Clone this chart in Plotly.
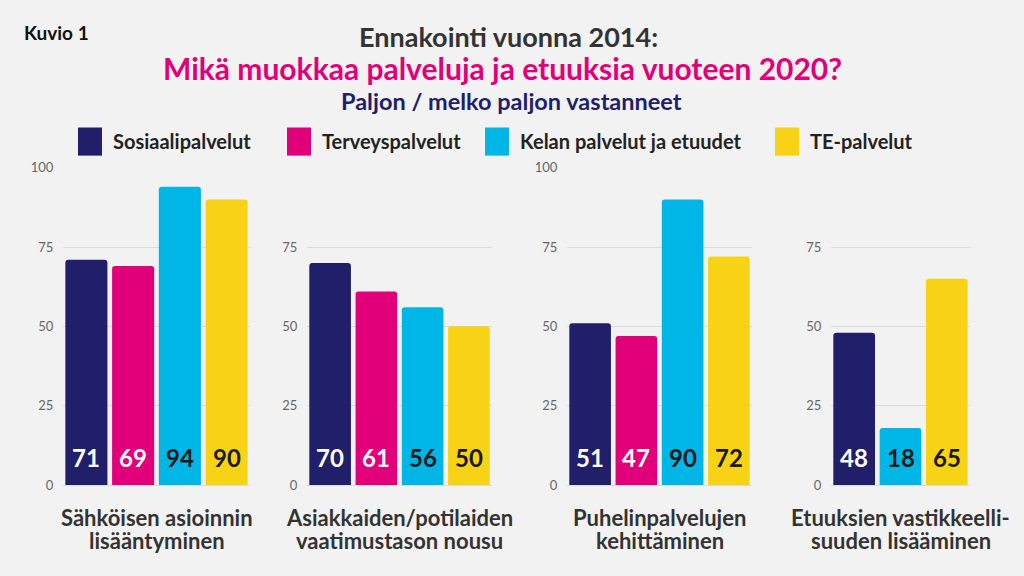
import plotly.graph_objects as go

# ---- data ----
series = ["Sosiaalipalvelut", "Terveyspalvelut", "Kelan palvelut ja etuudet", "TE-palvelut"]
categories = [
    "Sähköisen asioinnin<br>lisääntyminen",
    "Asiakkaiden/potilaiden<br>vaatimustason nousu",
    "Puhelinpalvelujen<br>kehittäminen",
    "Etuuksien vastikkeelli-<br>suuden lisääminen",
]
sosiaali = [71, 70, 51, 48]
terveys = [69, 61, 47, None]
kela = [94, 56, 90, 18]
te = [90, 50, 72, 65]
tickvals_per_panel = [[0, 25, 50, 75, 100], [0, 25, 50, 75], [0, 25, 50, 75, 100], [0, 25, 50, 75]]

# ---- style ----
colors = ["#211F69", "#E2007A", "#00B6E6", "#F8D315"]
text_colors = ["#FFFFFF", "#FFFFFF", "#1A1A1A", "#1A1A1A"]
FONT = "Lato"
W, H = 1024, 576
x_domains_px = [(63, 250), (307, 492), (567, 752), (831, 970)]
y0_px, y100_px = 483, 167

def px_x(v):
    return v / W

def px_y(v):
    # calibrated to the rendered page
    return 1 - (v - 8) / 557.6

fig = go.Figure()
values_by_series = [sosiaali, terveys, kela, te]
annotations = []

for p in range(4):
    xs, ys, cols, tcols = [], [], [], []
    for s in range(4):
        v = values_by_series[s][p]
        if v is None:
            continue
        xs.append(series[s]); ys.append(v); cols.append(colors[s]); tcols.append(text_colors[s])
    ax = "" if p == 0 else str(p + 1)
    fig.add_trace(go.Bar(
        x=xs, y=ys, marker=dict(color=cols, line=dict(width=0)),
        xaxis="x" + ax, yaxis="y" + ax, showlegend=False, hoverinfo="x+y",
    ))
    for xv, yv, tc in zip(xs, ys, tcols):
        annotations.append(dict(
            x=xv, y=0, xref="x" + ax, yref="y" + ax, text=str(yv), showarrow=False,
            yanchor="bottom", yshift=11,
            font=dict(family=FONT, size=24, color=tc, weight="bold"),
        ))
    d = x_domains_px[p]
    fig.update_layout(**{
        "xaxis" + ax: dict(domain=[px_x(d[0]), px_x(d[1])], showticklabels=False,
                           showgrid=False, zeroline=False, fixedrange=True),
        "yaxis" + ax: dict(domain=[px_y(y0_px), px_y(y100_px)], range=[0, 100],
                           tickvals=tickvals_per_panel[p], showgrid=True,
                           gridcolor="#DADADA", gridwidth=1, zeroline=True,
                           zerolinecolor="#DADADA", zerolinewidth=1,
                           anchor="x" + ax, ticks="outside", ticklen=6,
                           tickcolor="rgba(0,0,0,0)",
                           tickfont=dict(family=FONT, size=13, color="#666666")),
    })
    cx = (d[0] + d[1]) / 2
    for li, (line, ly) in enumerate(zip(categories[p].split("<br>"), [515, 538])):
        annotations.append(dict(
            x=px_x(cx), y=px_y(ly), xref="paper", yref="paper", text=line,
            showarrow=False, xanchor="center", yanchor="middle", align="center",
            font=dict(family=FONT, size=22, color="#333333", weight="bold"),
        ))

# Titles
annotations += [
    dict(x=px_x(22), y=px_y(32), xref="paper", yref="paper", text="Kuvio 1", showarrow=False,
         xanchor="left", yanchor="middle", font=dict(family=FONT, size=19, color="#111111", weight="bold")),
    dict(x=px_x(508), y=px_y(36), xref="paper", yref="paper", text="Ennakointi vuonna 2014:",
         showarrow=False, xanchor="center", yanchor="middle",
         font=dict(family=FONT, size=27, color="#333333", weight="bold")),
    dict(x=px_x(502), y=px_y(68), xref="paper", yref="paper",
         text="Mikä muokkaa palveluja ja etuuksia vuoteen 2020?", showarrow=False,
         xanchor="center", yanchor="middle",
         font=dict(family=FONT, size=30, color="#E2007A", weight="bold")),
    dict(x=px_x(511), y=px_y(101), xref="paper", yref="paper",
         text="Paljon / melko paljon vastanneet", showarrow=False,
         xanchor="center", yanchor="middle",
         font=dict(family=FONT, size=23.5, color="#211F69", weight="bold")),
]

# Legend (manual, large squares)
legend_sq_x = [78, 287, 485, 775]
shapes = []
for s in range(4):
    x0 = legend_sq_x[s]
    shapes.append(dict(type="rect", xref="paper", yref="paper",
                       x0=px_x(x0), x1=px_x(x0 + 24), y0=px_y(155), y1=px_y(127),
                       fillcolor=colors[s], line=dict(width=0)))
    annotations.append(dict(x=px_x(x0 + 33), y=px_y(140), xref="paper", yref="paper",
                            text=series[s], showarrow=False, xanchor="left", yanchor="middle",
                            font=dict(family=FONT, size=20, color="#222222", weight="bold")))

fig.update_layout(
    width=W, height=H, margin=dict(l=0, r=0, t=0, b=0),
    paper_bgcolor="#F2F2F2", plot_bgcolor="#F2F2F2",
    bargap=0.1, barcornerradius=3,
    annotations=annotations, shapes=shapes, showlegend=False,
)

fig.write_html("out.html")
